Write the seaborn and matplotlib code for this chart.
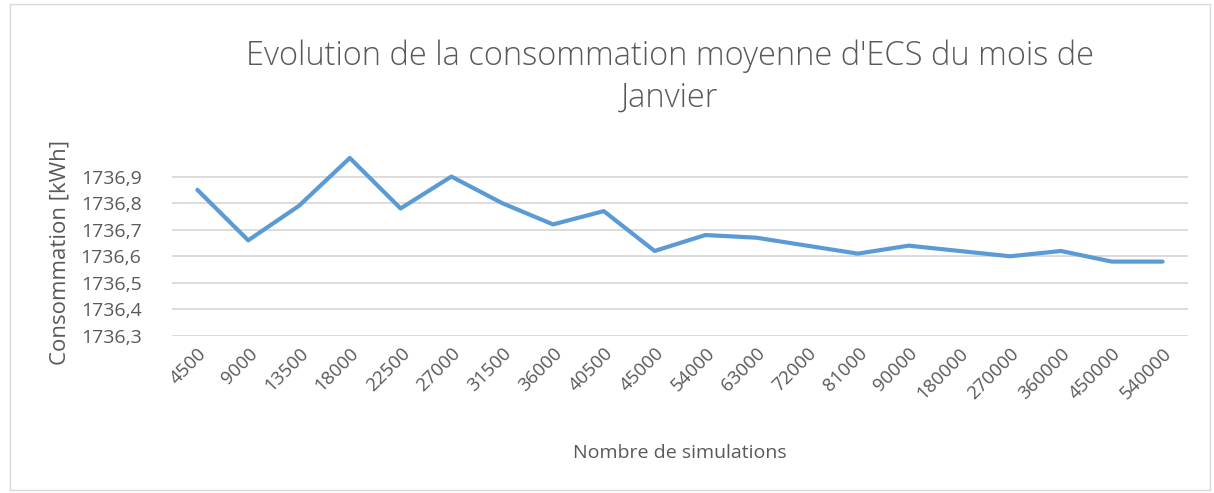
import matplotlib
matplotlib.use("Agg")
import matplotlib.pyplot as plt
import seaborn as sns
import pandas as pd
from matplotlib.ticker import FuncFormatter
from matplotlib.patches import Rectangle

simulations = ["4500", "9000", "13500", "18000", "22500", "27000", "31500", "36000",
               "40500", "45000", "54000", "63000", "72000", "81000", "90000",
               "180000", "270000", "360000", "450000", "540000"]
consommation = [1736.85, 1736.66, 1736.79, 1736.97, 1736.78, 1736.90, 1736.80, 1736.72,
                1736.77, 1736.62, 1736.68, 1736.67, 1736.64, 1736.61, 1736.64,
                1736.62, 1736.60, 1736.62, 1736.58, 1736.58]

title = "Evolution de la consommation moyenne d'ECS du mois de\nJanvier"
xlabel = "Nombre de simulations"
ylabel = "Consommation [kWh]"

sns.set_theme(style="white")
plt.rcParams['font.family'] = ['Open Sans', 'DejaVu Sans']

grey = "#595959"
df = pd.DataFrame({"sim": simulations, "val": consommation})

fig = plt.figure(figsize=(12.14, 4.93), dpi=100)
ax = fig.add_axes([172/1214, 157/493, 1016/1214, 186/493])

sns.lineplot(data=df, x="sim", y="val", sort=False, color="#5B9BD5", lw=3.0, ax=ax)

ax.set_xlim(-0.5, len(simulations) - 0.5)
ax.set_ylim(1736.3, 1737.0)
ax.set_yticks([1736.3, 1736.4, 1736.5, 1736.6, 1736.7, 1736.8, 1736.9])
ax.yaxis.set_major_formatter(FuncFormatter(lambda v, p: f"{v:.1f}".replace(".", ",")))
ax.grid(axis="y", color="#D9D9D9", lw=1.3)
ax.grid(axis="x", visible=False)
for s in ax.spines.values():
    s.set_visible(False)
ax.tick_params(axis="both", length=0, colors=grey)
ax.tick_params(axis="y", labelsize=14, pad=22)
ax.tick_params(axis="x", labelsize=13.5, pad=6)
for lbl in ax.get_xticklabels():
    lbl.set_rotation(45)
    lbl.set_ha("right")
    lbl.set_rotation_mode("anchor")

ax.set_xlabel(xlabel, fontsize=14, color=grey, labelpad=30)
ax.set_ylabel(ylabel, fontsize=16, color=grey)
ax.yaxis.set_label_coords(-0.1, 0.45)

fig.text(670/1214, 1 - 77/493, title, ha="center", va="center", fontsize=23.5,
         color=grey, fontweight="light", linespacing=1.35)

fig.patches.append(Rectangle((10/1214, 3/493), 1200/1214, 486/493, transform=fig.transFigure,
                             fill=False, edgecolor="#D9D9D9", lw=1))

fig.savefig("out.png", dpi=100, facecolor="white")
